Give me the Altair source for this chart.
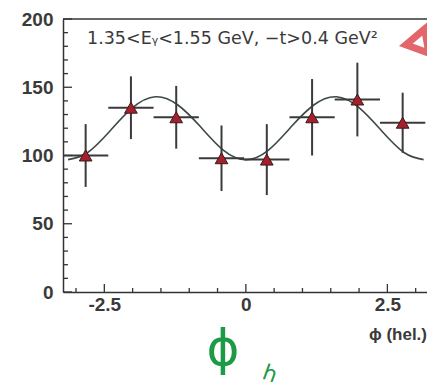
import altair as alt
import pandas as pd

# --- data ---
phi = [-2.83, -2.03, -1.23, -0.43, 0.37, 1.17, 1.97, 2.77]
counts = [100, 135, 128, 98, 97, 128, 141, 124]
errors = [23, 23, 23, 24, 26, 28, 27, 22]
bin_half = [0.4] * 8

fit_phi = [-3.14, -2.8, -2.4, -2.0, -1.6, -1.2, -0.8, -0.4, 0.0,
           0.4, 0.8, 1.2, 1.6, 2.0, 2.4, 2.8, 3.14]
fit_val = [97, 102, 118, 135, 143, 137, 121, 104, 97,
           104, 121, 137, 143, 135, 118, 102, 97]

x_major = [-2.5, 0, 2.5]
x_minor = [-3.0, -2.0, -1.5, -1.0, -0.5, 0.5, 1.0, 1.5, 2.0, 3.0]
y_major = [0, 50, 100, 150, 200]
y_minor = [10, 20, 30, 40, 60, 70, 80, 90, 110, 120, 130, 140, 160, 170, 180, 190]

annotation = "1.35<E\u1d67<1.55 GeV, \u2212t>0.4 GeV\u00b2"
x_title = "\u03d5 (hel.)"

W, H = 364, 273

pts = pd.DataFrame({
    "phi": phi, "n": counts,
    "lo": [c - e for c, e in zip(counts, errors)],
    "hi": [c + e for c, e in zip(counts, errors)],
    "x0": [p - h for p, h in zip(phi, bin_half)],
    "x1": [p + h for p, h in zip(phi, bin_half)],
})
fit = pd.DataFrame({"phi": fit_phi, "v": fit_val})

xs = alt.Scale(domain=[-3.23, 3.2], nice=False, zero=False)
ys = alt.Scale(domain=[0, 200], nice=False)

axis_common = dict(ticks=False, grid=False, domainColor="#333", domainWidth=1.5,
                   labelFont="Liberation Sans", labelFontSize=19, labelFontWeight="bold",
                   labelColor="#3a3a3a", title=None)
xax = alt.Axis(values=x_major, labelPadding=3,
               labelExpr="datum.value == 0 ? '0' : (datum.value < 0 ? '-' : '') + format(abs(datum.value), '.1f')",
               **axis_common)
yax = alt.Axis(values=y_major, labelPadding=10, **axis_common)


def X(f):
    return alt.X(f, scale=xs, axis=xax)


def Y(f):
    return alt.Y(f, scale=ys, axis=yax)


top_frame = alt.Chart(pd.DataFrame({"a": [0]})).mark_rule(color="#333", strokeWidth=1.5).encode(
    x=alt.value(0), x2=alt.value(W), y=alt.value(0)
)

xmaj = alt.Chart(pd.DataFrame({"v": x_major})).mark_rule(color="#333", strokeWidth=1.3).encode(
    x=X("v:Q"), y=alt.value(H), y2=alt.value(H - 8))
xmin = alt.Chart(pd.DataFrame({"v": x_minor})).mark_rule(color="#333", strokeWidth=1.3).encode(
    x=X("v:Q"), y=alt.value(H), y2=alt.value(H - 4))
ymaj = alt.Chart(pd.DataFrame({"v": y_major})).mark_rule(color="#333", strokeWidth=1.3).encode(
    y=Y("v:Q"), x=alt.value(0), x2=alt.value(9))
ymin = alt.Chart(pd.DataFrame({"v": y_minor})).mark_rule(color="#333", strokeWidth=1.3).encode(
    y=Y("v:Q"), x=alt.value(0), x2=alt.value(5))

curve = alt.Chart(fit).mark_line(color="#3b4a42", strokeWidth=1.6, interpolate="natural").encode(
    x=X("phi:Q"), y=Y("v:Q"))

hbar = alt.Chart(pts).mark_rule(color="#3a3a3a", strokeWidth=2).encode(
    x=X("x0:Q"), x2="x1:Q", y=Y("n:Q"))
vbar = alt.Chart(pts).mark_rule(color="#3a3a3a", strokeWidth=2).encode(
    x=X("phi:Q"), y=Y("lo:Q"), y2="hi:Q")
tri = alt.Chart(pts).mark_point(shape="triangle-up", filled=True, size=160, color="#a5202c",
                                stroke="#3a1a1a", strokeWidth=1, opacity=1).encode(
    x=X("phi:Q"), y=Y("n:Q"))

label = alt.Chart(pd.DataFrame({"t": [annotation]})).mark_text(
    align="left", baseline="middle", font="DejaVu Sans", fontSize=17.5, color="#3a3a3a").encode(
    x=alt.value(24), y=alt.value(20), text="t:N")

xt = alt.Chart(pd.DataFrame({"t": [x_title]})).mark_text(
    align="right", baseline="middle", font="Liberation Sans", fontSize=17, fontWeight="bold",
    color="#3a3a3a").encode(
    x=alt.value(W), y=alt.value(H + 43), text="t:N")

red_mark = alt.Chart(pd.DataFrame({"a": [0]})).mark_point(
    shape="triangle-up", filled=False, size=600, stroke="#d8262c", strokeWidth=7, angle=20).encode(
    x=alt.value(W - 6), y=alt.value(20))

green_phi = alt.Chart(pd.DataFrame({"t": ["\u03d5"]})).mark_text(
    align="center", baseline="middle", font="DejaVu Sans", fontSize=50, color="#1d9a45").encode(
    x=alt.value(160), y=alt.value(H + 58), text="t:N")
green_h = alt.Chart(pd.DataFrame({"t": ["h"]})).mark_text(
    align="center", baseline="middle", font="DejaVu Sans", fontSize=22, color="#1d9a45",
    angle=20).encode(x=alt.value(207), y=alt.value(H + 82), text="t:N")

chart = alt.layer(top_frame, xmaj, xmin, ymaj, ymin, curve, hbar, vbar, tri,
                  label, xt, red_mark, green_phi, green_h).properties(
    width=W, height=H,
    autosize=alt.AutoSizeParams(type="none"),
    padding={"left": 63, "top": 19, "right": 0, "bottom": 97},
    background="white",
).configure_view(stroke=None)

chart.save("out.html", embed_options={"renderer": "svg", "actions": False})
